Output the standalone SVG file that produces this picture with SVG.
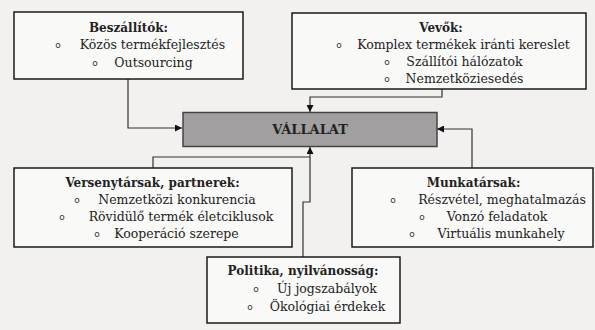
<svg xmlns="http://www.w3.org/2000/svg" width="595" height="330" viewBox="0 0 595 330">
<style>
.box{fill:#f9f9f8;stroke:#1a1a1a;stroke-width:1.5}
.main{fill:#a19f9f;stroke:#444;stroke-width:1.5}
.t{font-family:"DejaVu Serif","Liberation Serif",serif;font-size:12.5px;fill:#222;text-anchor:middle}
.h{font-weight:bold;font-size:12px}
.b{font-family:"DejaVu Sans","Liberation Sans",sans-serif;font-size:9px;fill:#333;text-anchor:middle}
.c{fill:none;stroke:#333;stroke-width:1.2}
</style>
<defs>
<marker id="ah" viewBox="0 0 10 10" refX="10" refY="5" markerWidth="7" markerHeight="7" orient="auto" markerUnits="userSpaceOnUse"><path d="M0,0 L10,5 L0,10 z" fill="#111"/></marker>
</defs>
<rect x="0" y="0" width="595" height="330" fill="#f2f1ef"/>
<g id="connectors">
<path class="c" d="M128,79 V128 H182" marker-end="url(#ah)"/>
<path class="c" d="M442,89 V97 H310 V112" marker-end="url(#ah)"/>
<path class="c" d="M472,168 V129 H437" marker-end="url(#ah)"/>
<path class="c" d="M153,168 V157 H310"/>
<path class="c" d="M303,257 V202 H310 V147" marker-end="url(#ah)"/>
</g>
<g id="vallalat">
<rect class="main" x="183" y="112.5" width="254" height="34"/>
<text class="t h" x="310" y="134" style="font-size:13px">VÁLLALAT</text>
</g>
<g id="beszallitok">
<rect class="box" x="14" y="12" width="229" height="67"/>
<text class="t h" x="128.5" y="32">Beszállítók:</text>
<text class="b" x="58" y="48">o</text><text class="t" x="152.5" y="49">Közös termékfejlesztés</text>
<text class="b" x="95" y="66">o</text><text class="t" x="153.5" y="67">Outsourcing</text>
</g>
<g id="vevok">
<rect class="box" x="292" y="13" width="294" height="76"/>
<text class="t h" x="441" y="32">Vevők:</text>
<text class="b" x="339" y="48">o</text><text class="t" x="463.5" y="49">Komplex termékek iránti kereslet</text>
<text class="b" x="387" y="65">o</text><text class="t" x="464.5" y="66">Szállítói hálózatok</text>
<text class="b" x="387" y="82">o</text><text class="t" x="464.5" y="83">Nemzetköziesedés</text>
</g>
<g id="versenytarsak">
<rect class="box" x="14" y="168" width="278" height="79"/>
<text class="t h" x="152.5" y="187">Versenytársak, partnerek:</text>
<text class="b" x="77" y="203">o</text><text class="t" x="177" y="204">Nemzetközi konkurencia</text>
<text class="b" x="62" y="220">o</text><text class="t" x="181" y="221">Rövidülő termék életciklusok</text>
<text class="b" x="97" y="237">o</text><text class="t" x="176.5" y="238">Kooperáció szerepe</text>
</g>
<g id="munkatarsak">
<rect class="box" x="352" y="168" width="241" height="79"/>
<text class="t h" x="473.5" y="187">Munkatársak:</text>
<text class="b" x="393" y="203">o</text><text class="t" x="502" y="204">Részvétel, meghatalmazás</text>
<text class="b" x="422" y="220">o</text><text class="t" x="497" y="221">Vonzó feladatok</text>
<text class="b" x="412" y="237">o</text><text class="t" x="501" y="238">Virtuális munkahely</text>
</g>
<g id="politika">
<rect class="box" x="207" y="257" width="193" height="66"/>
<text class="t h" x="303" y="275">Politika, nyilvánosság:</text>
<text class="b" x="256" y="292">o</text><text class="t" x="327" y="293">Új jogszabályok</text>
<text class="b" x="250" y="310">o</text><text class="t" x="327.5" y="311">Ökológiai érdekek</text>
</g>
</svg>
